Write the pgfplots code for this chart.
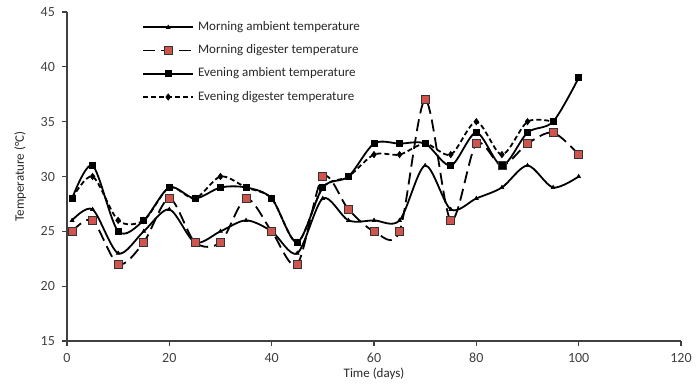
\documentclass[border=0pt]{standalone}
\usepackage{fontspec}
\setmainfont{Carlito}
\usepackage{pgfplots}
\pgfplotsset{compat=1.18}
\definecolor{sqred}{RGB}{208,84,78}
\begin{document}
\begin{tikzpicture}
\path[use as bounding box] (-33.5pt,-23pt) rectangle (316pt,170.5pt);
\begin{axis}[
  at={(0,0)}, anchor=origin,
  scale only axis, width=307pt, height=164.5pt,
  xmin=0, xmax=120, ymin=15, ymax=45,
  xtick={0,20,...,120}, ytick={15,20,...,45},
  axis x line*=bottom, axis y line*=left,
  axis line style={line width=0.8pt, draw=black!75, -},
  tick style={draw=black!75, line width=0.6pt},
  tick align=outside, major tick length=2.5pt,
  /pgf/number format/assume math mode=true,
  ticklabel style={font=\fontsize{7}{8}\selectfont, text=black!75},
  xlabel={Time (days)}, ylabel={Temperature (°C)},
  label style={font=\fontsize{6.5}{7.5}\selectfont, text=black!85},
  xlabel style={at={(axis description cs:0.5,0)}, anchor=north, yshift=-10pt},
  ylabel style={at={(axis description cs:0,0.5)}, anchor=south, yshift=17pt},
  legend style={draw=none, fill=none, at={(axis description cs:0.122,0.985)}, anchor=north west,
    font=\fontsize{6.5}{7.5}\selectfont, row sep=1.6pt, inner sep=0pt, text=black!85},
  legend cell align=left,
  legend image code/.code={\draw[#1] (0pt,0pt) -- (25pt,0pt); \path[#1] plot coordinates {(12.5pt,0pt)};},
  every axis plot/.append style={line width=0.9pt, smooth, tension=0.5},
]
\addplot[black, mark=triangle*, mark size=1.1pt, mark options={solid, line width=0.3pt}] coordinates {
(1,26)(5,27)(10,23)(15,25)(20,27)(25,24)(30,25)(35,26)(40,25)(45,23)(50,28)(55,26)(60,26)(65,26)(70,31)(75,27)(80,28)(85,29)(90,31)(95,29)(100,30)};
\addlegendentry{Morning ambient temperature}
\addplot[black, dash pattern=on 6pt off 3pt, mark=square*, mark size=2.0pt, mark options={solid, fill=sqred, draw=black!80, line width=0.4pt}] coordinates {
(1,25)(5,26)(10,22)(15,24)(20,28)(25,24)(30,24)(35,28)(40,25)(45,22)(50,30)(55,27)(60,25)(65,25)(70,37)(75,26)(80,33)(85,31)(90,33)(95,34)(100,32)};
\addlegendentry{Morning digester temperature}
\addplot[black, mark=square*, mark size=1.5pt, mark options={solid, line width=0.4pt}] coordinates {
(1,28)(5,31)(10,25)(15,26)(20,29)(25,28)(30,29)(35,29)(40,28)(45,24)(50,29)(55,30)(60,33)(65,33)(70,33)(75,31)(80,34)(85,31)(90,34)(95,35)(100,39)};
\addlegendentry{Evening ambient temperature}
\addplot[black, dash pattern=on 2.5pt off 1.5pt, mark=diamond*, mark size=1.6pt, mark options={solid, line width=0.3pt}] coordinates {
(1,28)(5,30)(10,26)(15,26)(20,29)(25,28)(30,30)(35,29)(40,28)(45,24)(50,29)(55,30)(60,32)(65,32)(70,33)(75,32)(80,35)(85,32)(90,35)(95,35)};
\addlegendentry{Evening digester temperature}
\end{axis}
\end{tikzpicture}
\end{document}
